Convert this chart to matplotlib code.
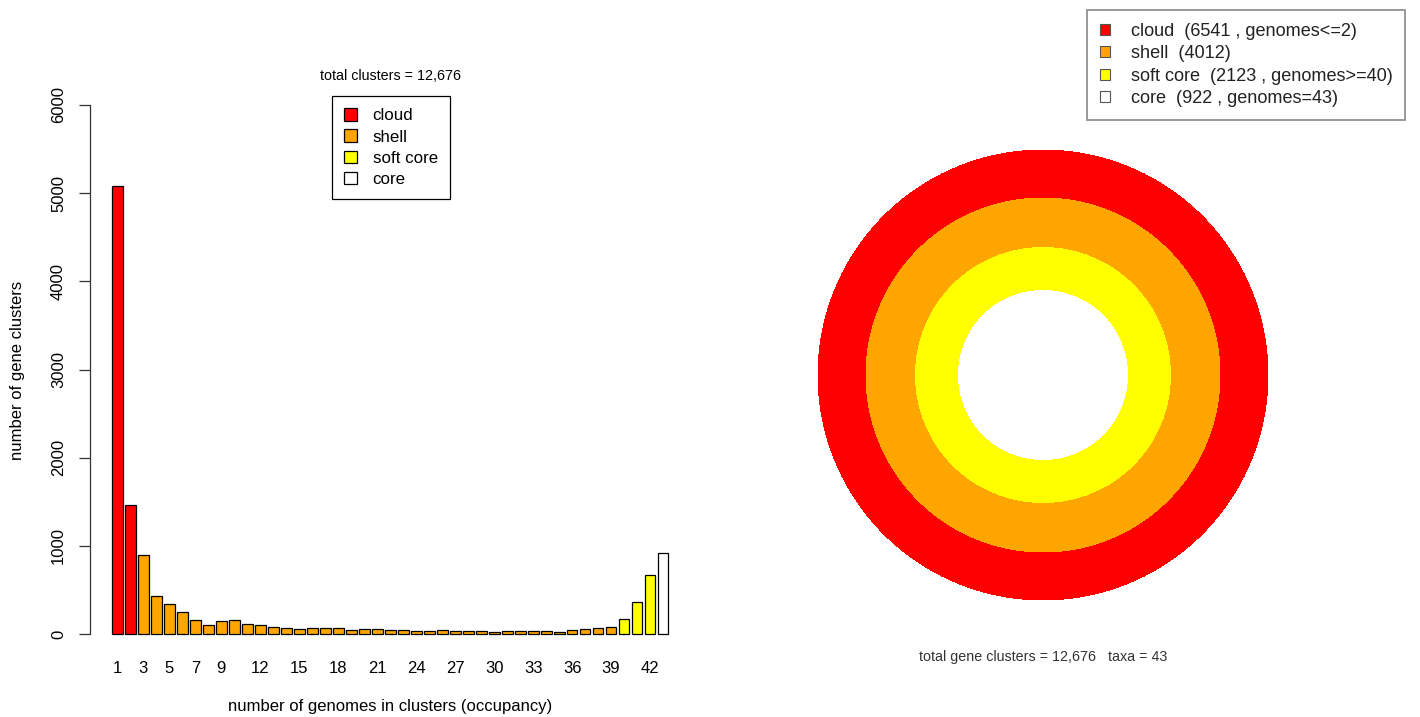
import matplotlib
matplotlib.use("Agg")
import matplotlib.pyplot as plt
from matplotlib.patches import Patch, Circle

plt.rcParams['font.family'] = ['Liberation Sans', 'DejaVu Sans']

# Number of gene clusters found in exactly k genomes (k = 1..43)
occupancy = list(range(1, 44))
cloud_counts = [5080, 1461]                                   # k = 1..2
shell_counts = [900, 435, 345, 250, 160, 100, 150, 160, 115, 105,
                82, 73, 58, 74, 64, 64, 42, 60, 53, 42,
                42, 34, 34, 42, 39, 32, 30, 26, 37, 30,
                30, 30, 28, 42, 57, 64, 83]                  # k = 3..39
softcore_counts = [165, 368, 668]                             # k = 40..42
core_counts = [922]                                           # k = 43

tick_labels = [1, 3, 5, 7, 9, 12, 15, 18, 21, 24, 27, 30, 33, 36, 39, 42]
class_names = ["cloud", "shell", "soft core", "core"]
class_colors = ["#FF0000", "#FFA500", "#FFFF00", "#FFFFFF"]

counts = cloud_counts + shell_counts + softcore_counts + core_counts
bar_colors = ([class_colors[0]] * len(cloud_counts) + [class_colors[1]] * len(shell_counts)
              + [class_colors[2]] * len(softcore_counts) + [class_colors[3]] * len(core_counts))

total = sum(counts)
n_taxa = len(counts)
n_cloud = sum(cloud_counts)
n_shell = sum(shell_counts)
n_soft = sum(softcore_counts) + sum(core_counts)
n_core = sum(core_counts)

W, H = 1420, 717
fig = plt.figure(figsize=(W / 100, H / 100), dpi=100)
fig.patch.set_facecolor("white")


def px_axes(x0, y0, x1, y1):
    """Axes given by pixel edges (y measured from the top)."""
    return fig.add_axes([x0 / W, 1 - y1 / H, (x1 - x0) / W, (y1 - y0) / H])


# ---------- occupancy bar plot ----------
ax = px_axes(89.7, 83.8, 690.7, 655.2)
xpos = [0.7 + 1.2 * (k - 1) for k in occupancy]
ax.bar(xpos, counts, width=1.0, color=bar_colors, edgecolor="black", linewidth=0.9)
ax.set_xlim(-1.856, 53.656)
ax.set_ylim(-240, 6240)
for s in ("top", "right", "bottom"):
    ax.spines[s].set_visible(False)
ax.spines["left"].set_bounds(0, 6000)
ax.spines["left"].set_linewidth(0.9)
ax.spines["left"].set_color("#333333")
ax.set_yticks(range(0, 6001, 1000))
ax.set_yticklabels([str(v) for v in range(0, 6001, 1000)], rotation=90, va="center", fontsize=12)
ax.tick_params(axis="y", length=8, width=0.9, color="#333333", pad=9)
ax.set_xticks([xpos[k - 1] for k in tick_labels])
ax.set_xticklabels([str(k) for k in tick_labels], fontsize=12)
ax.tick_params(axis="x", length=0, pad=4)

fig.text(18 / W, 1 - 370 / H, "number of gene clusters", rotation=90,
         ha="center", va="center", fontsize=12)
fig.text(390 / W, 1 - 707 / H, "number of genomes in clusters (occupancy)",
         ha="center", va="center", fontsize=12)
fig.text(390 / W, 1 - 76.5 / H, f"total clusters = {total:,}",
         ha="center", va="center", fontsize=10.3)

handles = [Patch(facecolor=c, edgecolor="black", linewidth=0.9) for c in class_colors]
leg1 = fig.legend(handles, class_names, loc="upper left",
                  bbox_to_anchor=(331.7 / W, 1 - 96 / H), bbox_transform=fig.transFigure,
                  borderaxespad=0, fontsize=12.2, handlelength=0.75, handleheight=0.75,
                  handletextpad=0.95, labelspacing=0.36, borderpad=0.72,
                  fancybox=False, framealpha=1, edgecolor="black")
leg1.get_frame().set_linewidth(0.9)

# ---------- pan-genome rings ----------
cx, cy, half = 1043, 375, 240
ax2 = px_axes(cx - half, cy - half, cx + half, cy + half)
ax2.set_xlim(-half, half)
ax2.set_ylim(-half, half)
ax2.set_aspect("equal")
ax2.axis("off")
ring_radii = [225, 177, 127.5, 84.5]
for r, c in zip(ring_radii, class_colors):
    ax2.add_patch(Circle((0, 0), r, facecolor=c, edgecolor="none", antialiased=False))

fig.text(1043.5 / W, 1 - 657 / H, f"total gene clusters = {total:,}   taxa = {n_taxa}",
         ha="center", va="center", fontsize=10.3, color="#333333")

ring_labels = [
    f"cloud  ({n_cloud} , genomes<=2)",
    f"shell  ({n_shell})",
    f"soft core  ({n_soft} , genomes>={occupancy[-4]})",
    f"core  ({n_core} , genomes={occupancy[-1]})",
]
handles2 = [Patch(facecolor=c, edgecolor="#555555", linewidth=0.8) for c in class_colors]
leg2 = fig.legend(handles2, ring_labels, loc="upper left",
                  bbox_to_anchor=(1087 / W, 1 - 10 / H), bbox_transform=fig.transFigure,
                  borderaxespad=0, fontsize=13.1, handlelength=0.55, handleheight=0.55,
                  handletextpad=1.15, labelspacing=0.3, borderpad=0.7,
                  fancybox=False, framealpha=1, edgecolor="#888888", labelcolor="#222222")
leg2.get_frame().set_linewidth(1.2)

fig.savefig("out.png", dpi=100, facecolor="white")
